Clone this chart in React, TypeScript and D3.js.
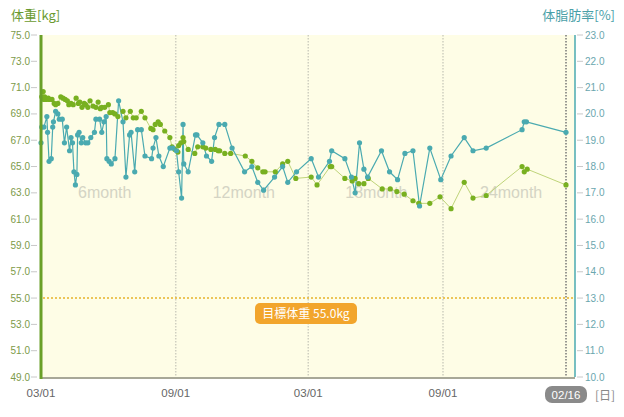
import React from "react";
import * as d3 from "d3";

// days since START, body weight in kg
const weightLog: [number, number][] = [
  [1, 70.3], [3, 70.7], [4, 70.1], [5, 70.3], [7, 70.1], [10, 70.2], [11, 70.1], [15, 70.1],
  [18, 69.8], [20, 69.7], [23, 69.8], [27, 70.3], [30, 70.2], [33, 70.1], [36, 70.0], [38, 69.7],
  [41, 69.8], [44, 69.7], [48, 70.2], [51, 69.8], [53, 69.9], [56, 69.5], [59, 69.8], [61, 69.7],
  [64, 69.5], [67, 70.0], [71, 69.6], [75, 69.5], [78, 69.9], [81, 69.4], [83, 69.5], [87, 69.5],
  [92, 69.7], [94, 69.1], [98, 69.1], [101, 69.0], [105, 68.8], [112, 69.2], [116, 68.7], [122, 69.2],
  [126, 68.7], [130, 68.7], [137, 69.2], [142, 68.7], [150, 67.9], [153, 67.8], [156, 68.2], [160, 68.4],
  [163, 68.2], [169, 67.7], [176, 67.2], [179, 66.5], [183, 66.3], [187, 66.1], [188, 66.6], [191, 66.8],
  [194, 67.2], [195, 66.9], [201, 66.3], [210, 66.0], [214, 66.5], [221, 66.5], [225, 66.4], [232, 66.3],
  [238, 66.3], [242, 66.2], [244, 66.2], [251, 66.0], [259, 66.0], [279, 65.8], [288, 65.4], [296, 64.9],
  [303, 64.6], [306, 64.6], [320, 64.6], [330, 65.2], [337, 65.4], [348, 64.1], [369, 64.2], [377, 63.6],
  [395, 65.0], [397, 65.0], [415, 64.1], [425, 63.9], [429, 64.1], [434, 63.7], [441, 63.7], [447, 64.1],
  [466, 63.3], [477, 63.3], [486, 63.1], [496, 62.9], [508, 62.4], [516, 62.2], [531, 62.2], [545, 62.7],
  [560, 61.8], [578, 63.8], [590, 62.6], [608, 62.8], [657, 65.0], [660, 64.6], [664, 64.8], [717, 63.6],
];

// days since START, body fat percentage
const fatLog: [number, number][] = [
  [0, 18.9], [1, 19.5], [4, 19.5], [8, 19.9], [9, 19.3], [11, 18.2], [14, 18.3], [16, 19.5],
  [17, 19.7], [20, 20.1], [23, 20.0], [25, 19.8], [29, 19.8], [32, 18.9], [35, 19.5], [39, 18.6],
  [41, 19.1], [43, 18.9], [45, 17.8], [47, 17.3], [49, 17.7], [50, 19.2], [52, 19.3], [55, 18.9],
  [57, 19.1], [61, 18.9], [64, 18.9], [68, 19.1], [73, 19.3], [75, 19.8], [80, 19.8], [83, 19.3],
  [86, 19.7], [89, 19.9], [90, 18.3], [93, 18.2], [96, 18.1], [101, 18.3], [106, 20.5], [112, 19.7],
  [116, 17.6], [121, 19.2], [123, 19.3], [128, 17.8], [132, 19.4], [137, 19.4], [142, 18.4], [151, 18.3],
  [153, 18.7], [157, 19.1], [161, 18.4], [167, 18.0], [176, 18.7], [180, 18.7], [185, 18.6], [188, 17.8],
  [192, 16.8], [194, 19.6], [195, 18.1], [201, 17.8], [211, 19.2], [213, 19.2], [221, 18.9], [226, 18.4],
  [233, 18.2], [237, 19.1], [243, 19.6], [251, 19.6], [261, 18.7], [278, 17.8], [288, 18.0], [296, 17.4],
  [304, 17.1], [319, 17.6], [330, 18.0], [337, 17.4], [349, 17.8], [369, 18.3], [379, 17.6], [394, 18.2],
  [397, 18.6], [415, 18.3], [424, 17.6], [429, 17.0], [435, 18.9], [441, 17.9], [446, 17.6], [465, 18.6],
  [476, 17.8], [487, 17.5], [497, 18.5], [508, 18.6], [517, 16.5], [531, 18.7], [546, 17.5], [560, 18.4],
  [578, 19.1], [590, 18.6], [608, 18.7], [657, 19.4], [660, 19.7], [663, 19.7], [717, 19.3],
];

const START = new Date(2013, 2, 1);
const END = new Date(2015, 1, 16);

const weightTicks = [75, 73, 71, 69, 67, 65, 63, 61, 59, 57, 55, 53, 51, 49];
const fatTicks = [23, 22, 21, 20, 19, 18, 17, 16, 15, 14, 13, 12, 11, 10];
const dateTicks = [new Date(2013, 2, 1), new Date(2013, 8, 1), new Date(2014, 2, 1), new Date(2014, 8, 1)];
const periodLabels = ["6month", "12month", "18month", "24month"];
const targetWeight = 55.0;

const GREEN = "#78b020";
const GREEN_LINE = "#bfd47a";
const TEAL = "#4aaab0";
const NUM_FONT = "'Liberation Sans', Arial, sans-serif";
const JP_FONT = "'Noto Sans CJK JP', sans-serif";

export default function App() {
  const left = 41;
  const right = 575;
  const top = 35;
  const bottom = 377;

  const x = d3.scaleTime().domain([START, END]).range([left, 566]);
  const yW = d3.scaleLinear().domain([49, 75]).range([bottom, top]);
  const yF = d3.scaleLinear().domain([10, 23]).range([bottom, top]);
  const day = (d: number) => d3.timeDay.offset(START, d);
  const fmt = d3.timeFormat("%m/%d");

  const weightLine = d3.line<[number, number]>().x((d) => x(day(d[0]))).y((d) => yW(d[1]));
  const fatLine = d3.line<[number, number]>().x((d) => x(day(d[0]))).y((d) => yF(d[1]));

  const ty = yW(targetWeight);

  return (
    <div style={{ position: "fixed", left: 0, top: 0 }}>
      <svg width={624} height={417} style={{ display: "block", background: "#fff" }}>
        {/* plot background */}
        <rect x={left} y={top} width={right - left} height={bottom - top} fill="#fefde6" />

        {/* half-year grid */}
        {dateTicks.slice(1).map((d, i) => (
          <line key={i} x1={x(d)} x2={x(d)} y1={top} y2={bottom} stroke="#cfcfc0" strokeWidth={1.5} strokeDasharray="1.5,1.5" />
        ))}
        <line x1={x(END)} x2={x(END)} y1={top} y2={bottom} stroke="#777" strokeWidth={1.5} strokeDasharray="1.5,1.5" />

        {/* period captions */}
        {periodLabels.map((t, i) => (
          <text key={t} x={x(dateTicks[i]) + 37} y={198} fontSize={16} fill="#d4d4c4" fontFamily={NUM_FONT}>
            {t}
          </text>
        ))}

        {/* target weight */}
        <line x1={left + 2} x2={right} y1={ty} y2={ty} stroke="#e6b22a" strokeWidth={1.5} strokeDasharray="2,2" />
        <rect x={255} y={ty + 5} width={102} height={21} rx={5} fill="#f2a52c" />
        <text x={306} y={ty + 20} fontSize={12} fill="#fff" textAnchor="middle" fontFamily={JP_FONT}>
          目標体重 {targetWeight.toFixed(1)}kg
        </text>

        {/* series */}
        <path d={weightLine(weightLog) ?? ""} fill="none" stroke={GREEN_LINE} strokeWidth={1} />
        <path d={fatLine(fatLog) ?? ""} fill="none" stroke={TEAL} strokeWidth={1.2} />
        {weightLog.map((d, i) => (
          <circle key={"w" + i} cx={x(day(d[0]))} cy={yW(d[1])} r={2.6} fill={GREEN} />
        ))}
        {fatLog.map((d, i) => (
          <circle key={"f" + i} cx={x(day(d[0]))} cy={yF(d[1])} r={2.6} fill={TEAL} />
        ))}

        {/* axes */}
        <line x1={left} x2={right} y1={bottom + 1} y2={bottom + 1} stroke="#a8a898" strokeWidth={2} />
        <line x1={left} x2={left} y1={top} y2={bottom + 2} stroke="#6aa028" strokeWidth={3} />
        <line x1={right} x2={right} y1={top} y2={bottom} stroke={TEAL} strokeWidth={1.5} />

        {weightTicks.map((v) => (
          <g key={"wt" + v}>
            <line x1={31} x2={37} y1={yW(v)} y2={yW(v)} stroke="#c8c8c8" />
            <text x={30} y={yW(v) + 3.5} fontSize={10} textAnchor="end" fill="#7c9a48" fontFamily={NUM_FONT}>
              {v.toFixed(1)}
            </text>
          </g>
        ))}
        {fatTicks.map((v) => (
          <g key={"ft" + v}>
            <line x1={577} x2={583} y1={yF(v)} y2={yF(v)} stroke="#c8c8c8" />
            <text x={585} y={yF(v) + 3.5} fontSize={10} fill="#6aa6ae" fontFamily={NUM_FONT}>
              {v.toFixed(1)}
            </text>
          </g>
        ))}

        {dateTicks.map((d, i) => (
          <text key={"dt" + i} x={x(d)} y={397} fontSize={11.5} textAnchor="middle" fill="#666" fontFamily={NUM_FONT}>
            {fmt(d)}
          </text>
        ))}
        <rect x={x(END) - 21} y={386} width={42} height={17} rx={7} fill="#8a8a8a" />
        <text x={x(END)} y={399} fontSize={11.5} textAnchor="middle" fill="#fff" fontFamily={NUM_FONT}>
          {fmt(END)}
        </text>
        <text x={595} y={400} fontSize={12} fill="#888" fontFamily={JP_FONT}>
          [日]
        </text>

        {/* axis titles */}
        <text x={11} y={20} fontSize={13} fill="#6a9a30" fontFamily={JP_FONT}>
          体重[kg]
        </text>
        <text x={615} y={20} fontSize={13} textAnchor="end" fill="#4aa0a8" fontFamily={JP_FONT}>
          体脂肪率[%]
        </text>
      </svg>
    </div>
  );
}
